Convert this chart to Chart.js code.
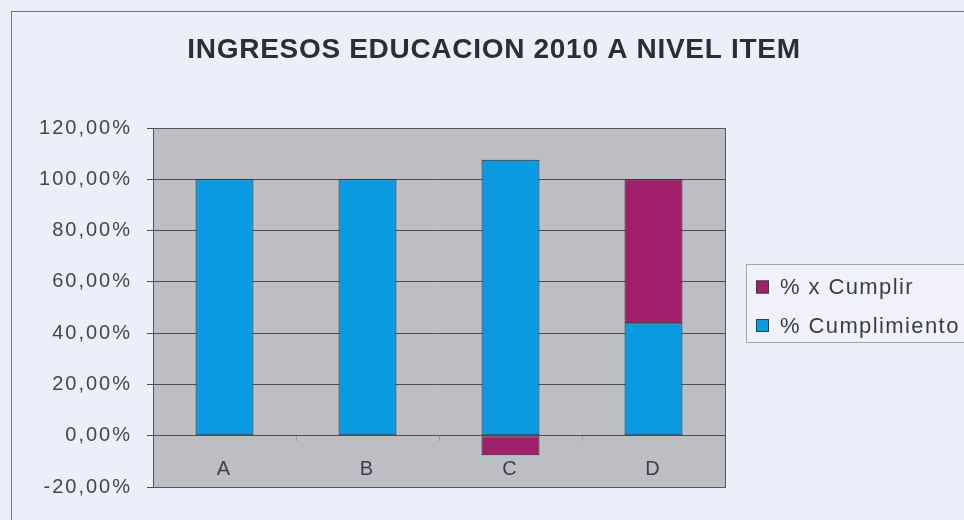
<!DOCTYPE html>
<html>
<head>
<meta charset="utf-8">
<script src="https://cdn.jsdelivr.net/npm/chart.js@4"></script>
<style>
  html, body { margin: 0; padding: 0; background: #eceef9; }
  #wrap { width: 964px; height: 520px; }
</style>
</head>
<body>
<div id="wrap"><canvas id="ingresos" width="964" height="520"></canvas></div>
<script>
const titulo = "INGRESOS EDUCACION 2010 A NIVEL ITEM";
const categorias = ["A", "B", "C", "D"];
const cumplimiento = [100, 100, 107.6, 43.9];
const porCumplir = [0, 0, -7.6, 56.1];
const yMin = -20, yMax = 120, yPaso = 20;

const colorFondo = "#eceef9";
const colorPlano = "#bdbec4";

function formatoPct(v) {
  return v.toFixed(2).replace(".", ",") + "%";
}

// fondo, marco exterior y area gris del grafico
const fondo = {
  id: "fondo",
  beforeDraw(chart) {
    const { ctx, chartArea: a } = chart;
    ctx.save();
    ctx.fillStyle = colorFondo;
    ctx.fillRect(0, 0, chart.width, chart.height);
    ctx.strokeStyle = "#72747c";
    ctx.lineWidth = 1;
    ctx.strokeRect(11.5, 11.5, chart.width + 20, chart.height + 20);
    ctx.fillStyle = colorPlano;
    ctx.fillRect(a.left, a.top, a.right - a.left, a.bottom - a.top);
    ctx.restore();
    // texto de ejes algo espaciado
    ctx.letterSpacing = "2px";
  },
  afterDraw(chart) {
    const { ctx, chartArea: a } = chart;
    ctx.save();
    ctx.letterSpacing = "0px";
    ctx.strokeStyle = "#55565c";
    ctx.lineWidth = 1;
    ctx.strokeRect(Math.round(a.left) + 0.5, Math.round(a.top) + 0.5,
      Math.round(a.right - a.left), Math.round(a.bottom - a.top));

    // titulo
    ctx.font = "bold 28px 'Liberation Sans', Arial, sans-serif";
    ctx.letterSpacing = "0.7px";
    ctx.fillStyle = "#2b2e36";
    ctx.textAlign = "center";
    ctx.textBaseline = "alphabetic";
    ctx.fillText(titulo, 494, 58);

    // leyenda (orden inverso a la pila)
    ctx.letterSpacing = "0px";
    ctx.fillStyle = "#f0f1fa";
    ctx.fillRect(746.5, 264.5, 300, 78);
    ctx.strokeStyle = "#a2a4ae";
    ctx.strokeRect(746.5, 264.5, 300, 78);
    const items = chart.data.datasets.slice().reverse();
    ctx.font = "22px 'Liberation Sans', Arial, sans-serif";
    ctx.letterSpacing = "1.4px";
    ctx.textAlign = "left";
    ctx.textBaseline = "middle";
    items.forEach((ds, i) => {
      const y = 287 + i * 38.5;
      ctx.fillStyle = ds.backgroundColor;
      ctx.fillRect(756, y - 6.5, 13, 13);
      ctx.strokeStyle = "#3a3a48";
      ctx.strokeRect(756.5, y - 6, 12, 12);
      ctx.fillStyle = "#3a3c44";
      ctx.fillText(ds.label, 780, y + 1);
    });
    ctx.restore();
  }
};

new Chart(document.getElementById("ingresos"), {
  type: "bar",
  data: {
    labels: categorias,
    datasets: [
      {
        label: "% Cumplimiento",
        data: cumplimiento,
        backgroundColor: "#0a9ae2",
        borderColor: "#1c2836",
        borderWidth: 1,
        borderSkipped: false
      },
      {
        label: "% x Cumplir",
        data: porCumplir,
        backgroundColor: "#a21f6c",
        borderColor: "#2a1c2c",
        borderWidth: 1,
        borderSkipped: false
      }
    ]
  },
  options: {
    responsive: false,
    animation: false,
    events: [],
    categoryPercentage: 1,
    barPercentage: 0.405,
    layout: { padding: { left: 11, top: 128, right: 239, bottom: 33 } },
    plugins: {
      legend: { display: false },
      title: { display: false },
      tooltip: { enabled: false }
    },
    scales: {
      x: {
        stacked: true,
        position: { y: 0 },
        border: { display: false },
        grid: {
          display: true,
          drawOnChartArea: false,
          offset: true,
          tickLength: 5,
          color: "#9a9ba2"
        },
        ticks: {
          color: "#3f4148",
          font: { family: "'Liberation Sans', Arial, sans-serif", size: 20 },
          padding: 17
        }
      },
      y: {
        stacked: true,
        min: yMin,
        max: yMax,
        border: { display: true, color: "#4e4f55" },
        grid: { color: "#4e4f55", lineWidth: 1, tickLength: 6 },
        ticks: {
          stepSize: yPaso,
          color: "#44464d",
          font: { family: "'Liberation Sans', Arial, sans-serif", size: 20 },
          padding: 15,
          callback: (v) => formatoPct(v)
        },
        afterFit(scale) { scale.width = 153 - 11; }
      }
    }
  },
  plugins: [fondo]
});
</script>
</body>
</html>
